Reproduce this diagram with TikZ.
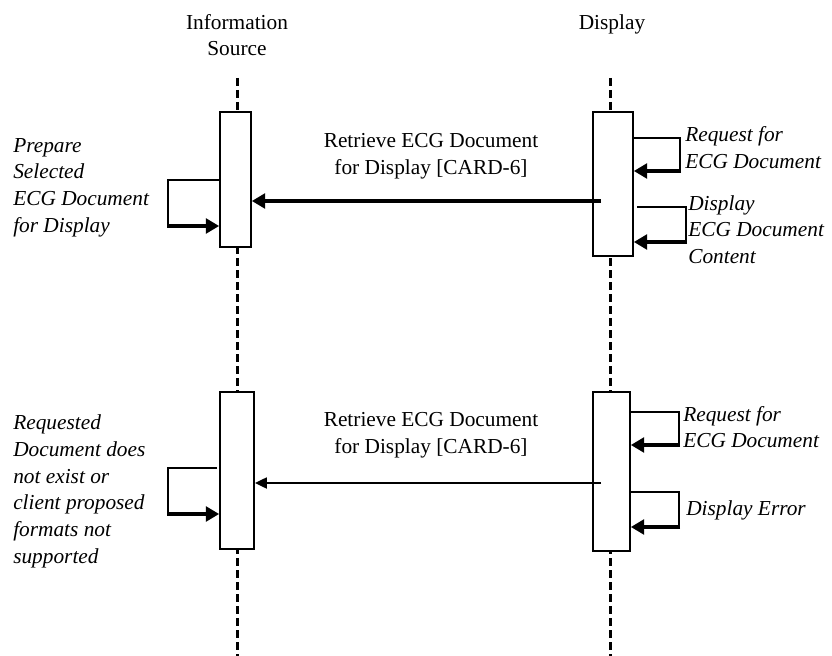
\documentclass[tikz,border=0pt]{standalone}
\usepackage{fontspec}
\setmainfont{Liberation Serif}
\usepackage{tikz}
\usetikzlibrary{arrows.meta}

\begin{document}
\begin{tikzpicture}[x=0.75pt,y=-0.75pt,>={Triangle[length=10pt,width=11pt]},font=\fontsize{16}{20}\selectfont]
    \tikzstyle{actor}=[inner sep=0pt, align=center, anchor=north]
    \tikzstyle{act}=[draw, fill=white, line width=1.2pt, inner sep=0pt]
    \tikzstyle{life}=[line width=2.25pt, dash pattern=on 6pt off 3pt]
    \tikzstyle{msg}=[inner sep=0pt, align=center, anchor=south]
    \tikzstyle{note}=[inner sep=0pt, align=left, anchor=west, font=\fontsize{16}{20}\selectfont\itshape]
    \tikzstyle{loopline}=[line width=1.1pt]
    \tikzstyle{looparrow}=[->, line width=3pt]
    \tikzstyle{call}=[->, line width=3pt]
    \tikzstyle{fault}=[-{Triangle[length=9pt,width=8pt]}, line width=2pt]

    \useasboundingbox (0,0) rectangle (832,656);

    \node[actor] (src)  at (237,14) {Information\\Source};
    \node[actor] (disp) at (612,14) {Display};

    \coordinate (srctop) at (237,78);
    \coordinate (srcend) at (237,656);
    \coordinate (disptop) at (610,78);
    \coordinate (dispend) at (610,656);
    \draw[life] (srctop) -- (srcend);
    \draw[life] (disptop) -- (dispend);

    \node[act, minimum width=23.25pt, minimum height=101.25pt] (a1) at (235.5,179.5) {};
    \node[act, minimum width=30pt,    minimum height=108pt]    (b1) at (613,184)     {};
    \node[act, minimum width=25.5pt,  minimum height=117.75pt] (a2) at (237,470.5)   {};
    \node[act, minimum width=27.75pt, minimum height=119.25pt] (b2) at (611.5,471.5) {};

    \node[msg] (lbl1) at (431,179) {Retrieve ECG Document\\for Display [CARD-6]};
    \node[msg] (lbl2) at (431,458) {Retrieve ECG Document\\for Display [CARD-6]};

    \coordinate (m1) at (601,201);
    \coordinate (m2) at (601,483);
    \draw[call]  (m1) -- (a1.east |- m1);
    \draw[fault] (m2) -- (a2.east |- m2);

    \node[note] (prep)  at (13,187.5)  {Prepare\\Selected\\ECG Document\\for Display};
    \node[note] (req1)  at (685,147.5) {Request for\\ECG Document};
    \node[note] (show1) at (688,229.5) {Display\\ECG Document\\Content};
    \node[note] (fail)  at (13,491.5)  {Requested\\Document does\\not exist or\\client proposed\\formats not\\supported};
    \node[note] (req2)  at (683,427)   {Request for\\ECG Document};
    \node[note] (err)   at (686,510)   {Display Error};

    \coordinate (p1) at (168,226);
    \coordinate (p2) at (680,171);
    \coordinate (p3) at (686,242);
    \coordinate (p4) at (168,514);
    \coordinate (p5) at (679,445);
    \coordinate (p6) at (679,527);

    \draw[loopline] (a1.west |- 0,180) -| (p1);
    \draw[looparrow] ([xshift=-0.75pt]p1) -- (a1.west |- p1);
    \draw[loopline] (b1.east |- 0,138) -| (p2);
    \draw[looparrow] ([xshift=0.75pt]p2) -- (b1.east |- p2);
    \draw[loopline] (637,207) -| (p3);
    \draw[looparrow] ([xshift=0.75pt]p3) -- (b1.east |- p3);
    \draw[loopline] (217,468) -| (p4);
    \draw[looparrow] ([xshift=-0.75pt]p4) -- (a2.west |- p4);
    \draw[loopline] (b2.east |- 0,412) -| (p5);
    \draw[looparrow] ([xshift=0.75pt]p5) -- (b2.east |- p5);
    \draw[loopline] (b2.east |- 0,492) -| (p6);
    \draw[looparrow] ([xshift=0.75pt]p6) -- (b2.east |- p6);
\end{tikzpicture}
\end{document}
